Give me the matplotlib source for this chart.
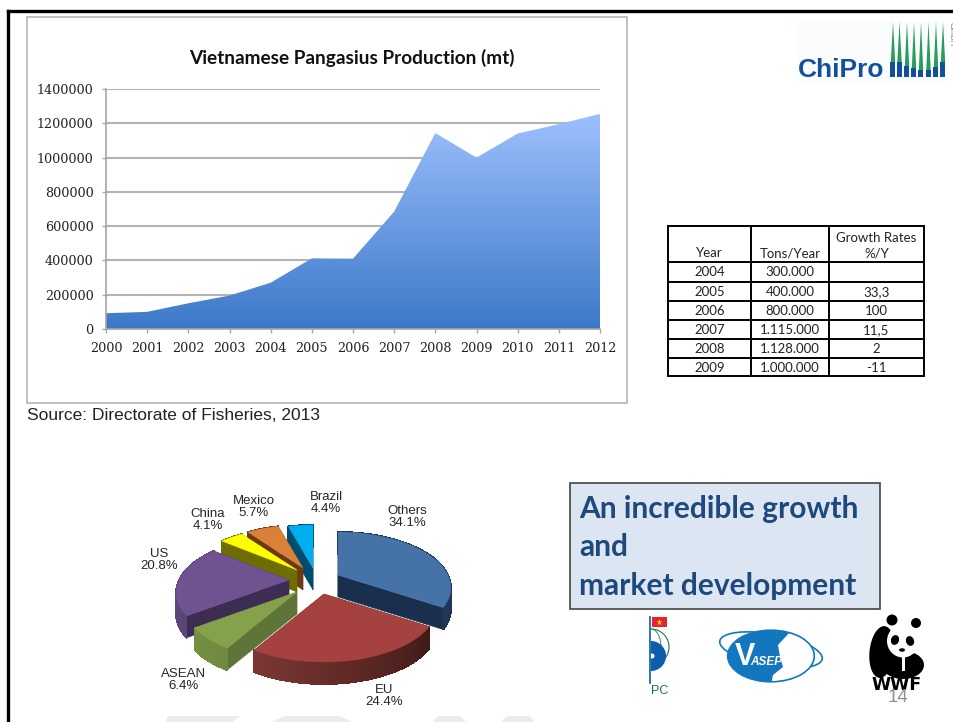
import numpy as np
import matplotlib
matplotlib.use('Agg')
import matplotlib.pyplot as plt
from matplotlib.patches import Polygon, Rectangle, Ellipse, Wedge, Circle, Arc

years = [2000, 2001, 2002, 2003, 2004, 2005, 2006,
         2007, 2008, 2009, 2010, 2011, 2012]
production = [92000, 100000, 150000, 195000, 270000, 412000, 410000,
              685000, 1143000, 1000000, 1140000, 1195000, 1255000]
y_ticks = [0, 200000, 400000, 600000, 800000, 1000000, 1200000, 1400000]

table_rows = [
    ["Year", "Tons/Year", "Growth Rates\n%/Y"],
    ["2004", "300.000", ""],
    ["2005", "400.000", "33,3"],
    ["2006", "800.000", "100"],
    ["2007", "1.115.000", "11,5"],
    ["2008", "1.128.000", "2"],
    ["2009", "1.000.000", "-11"],
]

markets = ["Others", "EU", "ASEAN", "US", "China", "Mexico", "Brazil"]
shares = [34.1, 24.4, 6.4, 20.8, 4.1, 5.7, 4.4]

# pie look, one entry per slice
top_colors = ["#4572a7", "#a5423f", "#84a24b", "#6f5391",
              "#ffff00", "#d98139", "#00aeef"]
cut_colors = ["#1a2f4d", "#4a1b17", "#5f7438", "#3d2d52",
              "#6e6e00", "#6b3a14", "#004c6e"]
wall_colors = [("#1a2f4d", "#1f3757"), ("#3f1a16", "#7c3734"),
               ("#6f8a40", "#75903f"), ("#5a4478", "#5f4a80"),
               ("#6e6e00", "#6e6e00"), ("#6b3a14", "#6b3a14"),
               ("#004c6e", "#004c6e")]
slice_shift = [(28, -3), (14, 16), (-13, 14), (-21, 2),
               (-13, -8), (-7, -10), (3, -10)]
pie_labels = [(407, 517), (384, 696), (184, 680), (159, 560),
              (208, 520), (254, 507), (326, 503)]
draw_order = [6, 5, 4, 0, 3, 2, 1]

W, H = 954, 722
PIE_X, PIE_Y = 310, 578
PIE_R, PIE_FLAT, PIE_PERSP, PIE_DEPTH = 110, 52.7, 0.225, 22


def rim(angle):
    """Offset of a point of the pie rim, seen in perspective (angle in degrees)"""
    a = np.radians(angle)
    s = 1 / (1 + PIE_PERSP * np.cos(a))
    return PIE_R * np.sin(a) * s, -PIE_FLAT * np.cos(a) * s


def mix(c1, c2, t):
    rgb1 = np.array(matplotlib.colors.to_rgb(c1))
    rgb2 = np.array(matplotlib.colors.to_rgb(c2))
    return rgb1 + (rgb2 - rgb1) * t


def draw_slice(ax, i, start, end):
    ox = PIE_X + slice_shift[i][0]
    oy = PIE_Y + slice_shift[i][1]
    angles = np.linspace(start, end, 40)
    xs, ys = rim(angles)
    xs = xs + ox
    ys = ys + oy

    # the two cut faces
    for px, py in [(xs[0], ys[0]), (xs[-1], ys[-1])]:
        ax.add_patch(Polygon([(ox, oy), (px, py), (px, py + PIE_DEPTH),
                              (ox, oy + PIE_DEPTH)],
                             fc=cut_colors[i], ec=cut_colors[i], lw=0.3))
    # outer wall, shaded along the rim
    for k in range(len(xs) - 1):
        col = mix(wall_colors[i][0], wall_colors[i][1], k / (len(xs) - 2))
        ax.add_patch(Polygon([(xs[k], ys[k]), (xs[k + 1], ys[k + 1]),
                              (xs[k + 1], ys[k + 1] + PIE_DEPTH),
                              (xs[k], ys[k] + PIE_DEPTH)],
                             fc=col, ec=col, lw=0.6, antialiased=False))
    ax.add_patch(Polygon(np.vstack([[ox, oy], np.column_stack([xs, ys])]),
                         fc=top_colors[i], ec=top_colors[i], lw=0.3))


def draw_pie(ax):
    edges = np.concatenate([[0], np.cumsum(shares)]) / sum(shares) * 360
    for i in draw_order:
        draw_slice(ax, i, edges[i], edges[i + 1])
    for i, name in enumerate(markets):
        ax.text(pie_labels[i][0], pie_labels[i][1],
                "%s\n%.1f%%" % (name, shares[i]), ha='center', va='center',
                family='Liberation Sans', fontsize=9.5, color='#262626',
                linespacing=1.08)


def draw_table(ax):
    col_x = [668, 751, 829, 924]
    row_y = [226, 262, 282, 301, 320, 339, 358, 376]
    for x in col_x:
        ax.plot([x, x], [row_y[0], row_y[-1]], color='black', lw=1.4)
    for y in row_y:
        ax.plot([col_x[0], col_x[-1]], [y, y], color='black', lw=1.4)
    for r, row in enumerate(table_rows):
        for c, txt in enumerate(row):
            cx = (col_x[c] + col_x[c + 1]) / 2
            if r == 0:
                ax.text(cx, row_y[1] - 3, txt, ha='center', va='bottom',
                        family='Lato', fontsize=9.5, color='#222222',
                        linespacing=1.25)
            else:
                ax.text(cx, (row_y[r] + row_y[r + 1]) / 2 + 0.5, txt,
                        ha='center', va='center', family='Lato',
                        fontsize=9.5, color='#222222')


def draw_chipro(ax):
    ax.add_patch(Rectangle((797, 21), 150, 61, fc='#fbfcfe', ec='none'))
    ax.text(798, 77, "ChiPro", family='Liberation Sans', weight='bold',
            fontsize=19, color='#12509f', va='baseline')
    bar_x = [893, 899.5, 907, 914, 921, 928.5, 936, 943]
    bar_top = [62, 62, 66, 68, 70, 70, 67, 62]
    for x, top in zip(bar_x, bar_top):
        ax.add_patch(Polygon([(x - 2.2, top), (x, 22), (x + 2.2, top)],
                             fc='#2a9d5c', ec='none'))
        ax.add_patch(Rectangle((x - 2.5, top), 5, 77 - top,
                               fc='#12509f', ec='none'))
    ax.text(951, 34, "GmbH", rotation=270, ha='center', va='center',
            family='Liberation Sans', fontsize=6, color='#777777')


def draw_pc_logo(ax):
    ax.add_patch(Rectangle((652, 617), 15, 10, fc='#e8232f', ec='none'))
    ax.plot([659.5], [622], marker='*', ms=5, color='#ffe000', mec='none')
    ax.add_patch(Arc((651, 647), 36, 36, theta1=-90, theta2=90,
                     color='#1a7a3c', lw=0.8))
    ax.add_patch(Arc((651, 647), 20, 36, theta1=-90, theta2=90,
                     color='#1a7a3c', lw=0.6))
    ax.add_patch(Wedge((651, 656), 15, -90, 90, fc='#0b5cad', ec='none'))
    ax.add_patch(Circle((652, 656), 2.5, fc='white', ec='none'))
    ax.plot([650.5, 650.5], [617, 683], color='#0b5cad', lw=1.2)
    ax.text(651, 691, "PC", family='Liberation Sans', fontsize=9,
            color='#1a7a3c', va='center')


def draw_vasep(ax):
    ax.add_patch(Ellipse((771, 650), 104, 32, angle=10, fc='none',
                         ec='#1277bf', lw=1.2))
    body = Ellipse((771, 656), 87, 52, fc='#1277bf', ec='none')
    ax.add_patch(body)
    # right side of the map stays white
    coast = Polygon([(790, 632), (778, 645), (780, 657), (783, 667), (773, 675),
                     (770, 690), (830, 690), (830, 625)], fc='white', ec='none')
    ax.add_patch(coast)
    coast.set_clip_path(Ellipse((771, 656), 85, 50, transform=ax.transData))
    ax.add_patch(Ellipse((771, 656), 87, 52, fc='none', ec='#1277bf', lw=0.9))
    ax.text(745, 657, "V", family='Liberation Sans', weight='bold',
            fontsize=22, color='white', ha='center', va='center')
    ax.text(766, 662, "ASEP", family='Liberation Sans', weight='bold', style='italic',
            fontsize=8.5, color='white', ha='center', va='center')


def draw_panda(ax):
    ax.add_patch(Circle((892, 620), 5.5, fc='black', ec='none'))
    ax.add_patch(Circle((916, 623), 5, fc='black', ec='none'))
    ax.add_patch(Ellipse((882, 652), 25, 52, angle=6, fc='black', ec='none'))
    ax.add_patch(Ellipse((903, 665), 42, 28, fc='black', ec='none'))
    ax.add_patch(Ellipse((903, 641), 32, 33, fc='white', ec='none'))
    ax.add_patch(Rectangle((902, 655), 3, 16, fc='white', ec='none'))
    ax.add_patch(Ellipse((895, 640), 8, 10, angle=20, fc='black', ec='none'))
    ax.add_patch(Ellipse((910, 641), 8, 10, angle=-20, fc='black', ec='none'))
    ax.add_patch(Ellipse((902, 650), 6, 3.5, fc='black', ec='none'))
    ax.text(896.5, 685.5, "WWF", family='DejaVu Sans', weight='bold',
            fontsize=12.5, color='black', ha='center', va='center')
    ax.text(898, 697, "14", family='Liberation Sans', fontsize=13.5,
            color='#909090', ha='center', va='center')


fig = plt.figure(figsize=(W / 100, H / 100), dpi=100)

# page layer in pixel coordinates
page = fig.add_axes([0, 0, 1, 1])
page.set_xlim(0, W)
page.set_ylim(H, 0)
page.axis('off')

page.plot([8, W], [11, 11], color='black', lw=2.4)
page.plot([8, 8], [11, H], color='black', lw=2.4)

# grey watermark cut off by the lower edge
for pts in [[(165, 722), (168, 716), (240, 716), (232, 722)],
            [(272, 722), (285, 716), (340, 716), (352, 722)],
            [(432, 722), (438, 716), (460, 716), (466, 722)],
            [(500, 722), (508, 716), (530, 716), (534, 722)]]:
    page.add_patch(Polygon(pts, fc='#ececec', ec='none'))

page.add_patch(Rectangle((27, 17), 600, 386, fc='white', ec='#b5b5b5', lw=1.2))
page.text(27, 415, "Source: Directorate of Fisheries, 2013",
          family='Liberation Sans', fontsize=12.5, color='#222222', va='center')
page.text(352, 58, "Vietnamese Pangasius Production (mt)", family='Lato',
          weight='bold', fontsize=13.7, color='#111111', ha='center', va='center')

draw_table(page)
draw_chipro(page)
draw_pie(page)

page.add_patch(Rectangle((570, 483), 310, 126, fc='#dce6f2', ec='#444444', lw=1.2))
for y, line in zip([509, 547, 586], ["An incredible growth", "and", "market development"]):
    page.text(579, y, line, family='Lato', weight='bold', fontsize=21.5,
              color='#1f497d', va='center')

draw_pc_logo(page)
draw_vasep(page)
draw_panda(page)

# production area chart
ax = fig.add_axes([106 / W, 1 - 329 / H, (600 - 106) / W, (329 - 89) / H])
ax.patch.set_alpha(0)
ax.set_xlim(years[0], years[-1])
ax.set_ylim(0, y_ticks[-1])
ax.set_xticks(years)
ax.set_yticks(y_ticks)
ax.set_yticklabels([str(v) for v in y_ticks])
ax.grid(axis='y', color='#b3b3b3', lw=1.5)
ax.set_axisbelow(True)
for side in ['top', 'right']:
    ax.spines[side].set_visible(False)
for side in ['left', 'bottom']:
    ax.spines[side].set_color('#a6a6a6')
    ax.spines[side].set_linewidth(1.2)
ax.tick_params(colors='#a6a6a6', length=3, width=1, pad=6, labelcolor='#222222')
for lab in ax.get_xticklabels() + ax.get_yticklabels():
    lab.set_family('DejaVu Serif')
    lab.set_fontsize(9.2)

gradient = np.linspace(0, 1, 256).reshape(-1, 1, 1) * (
    np.array(matplotlib.colors.to_rgb('#9dc0fd')) - np.array(matplotlib.colors.to_rgb('#3c79c8'))
) + np.array(matplotlib.colors.to_rgb('#3c79c8'))
area_img = ax.imshow(gradient, origin='lower', aspect='auto', zorder=2,
                     extent=(years[0], years[-1], 0, max(production)))
area = Polygon(list(zip(years, production)) + [(years[-1], 0), (years[0], 0)],
               closed=True, transform=ax.transData, fc='none', ec='none')
ax.add_patch(area)
area_img.set_clip_path(area)
ax.set_ylim(0, y_ticks[-1])

fig.savefig('out.png', dpi=100)
